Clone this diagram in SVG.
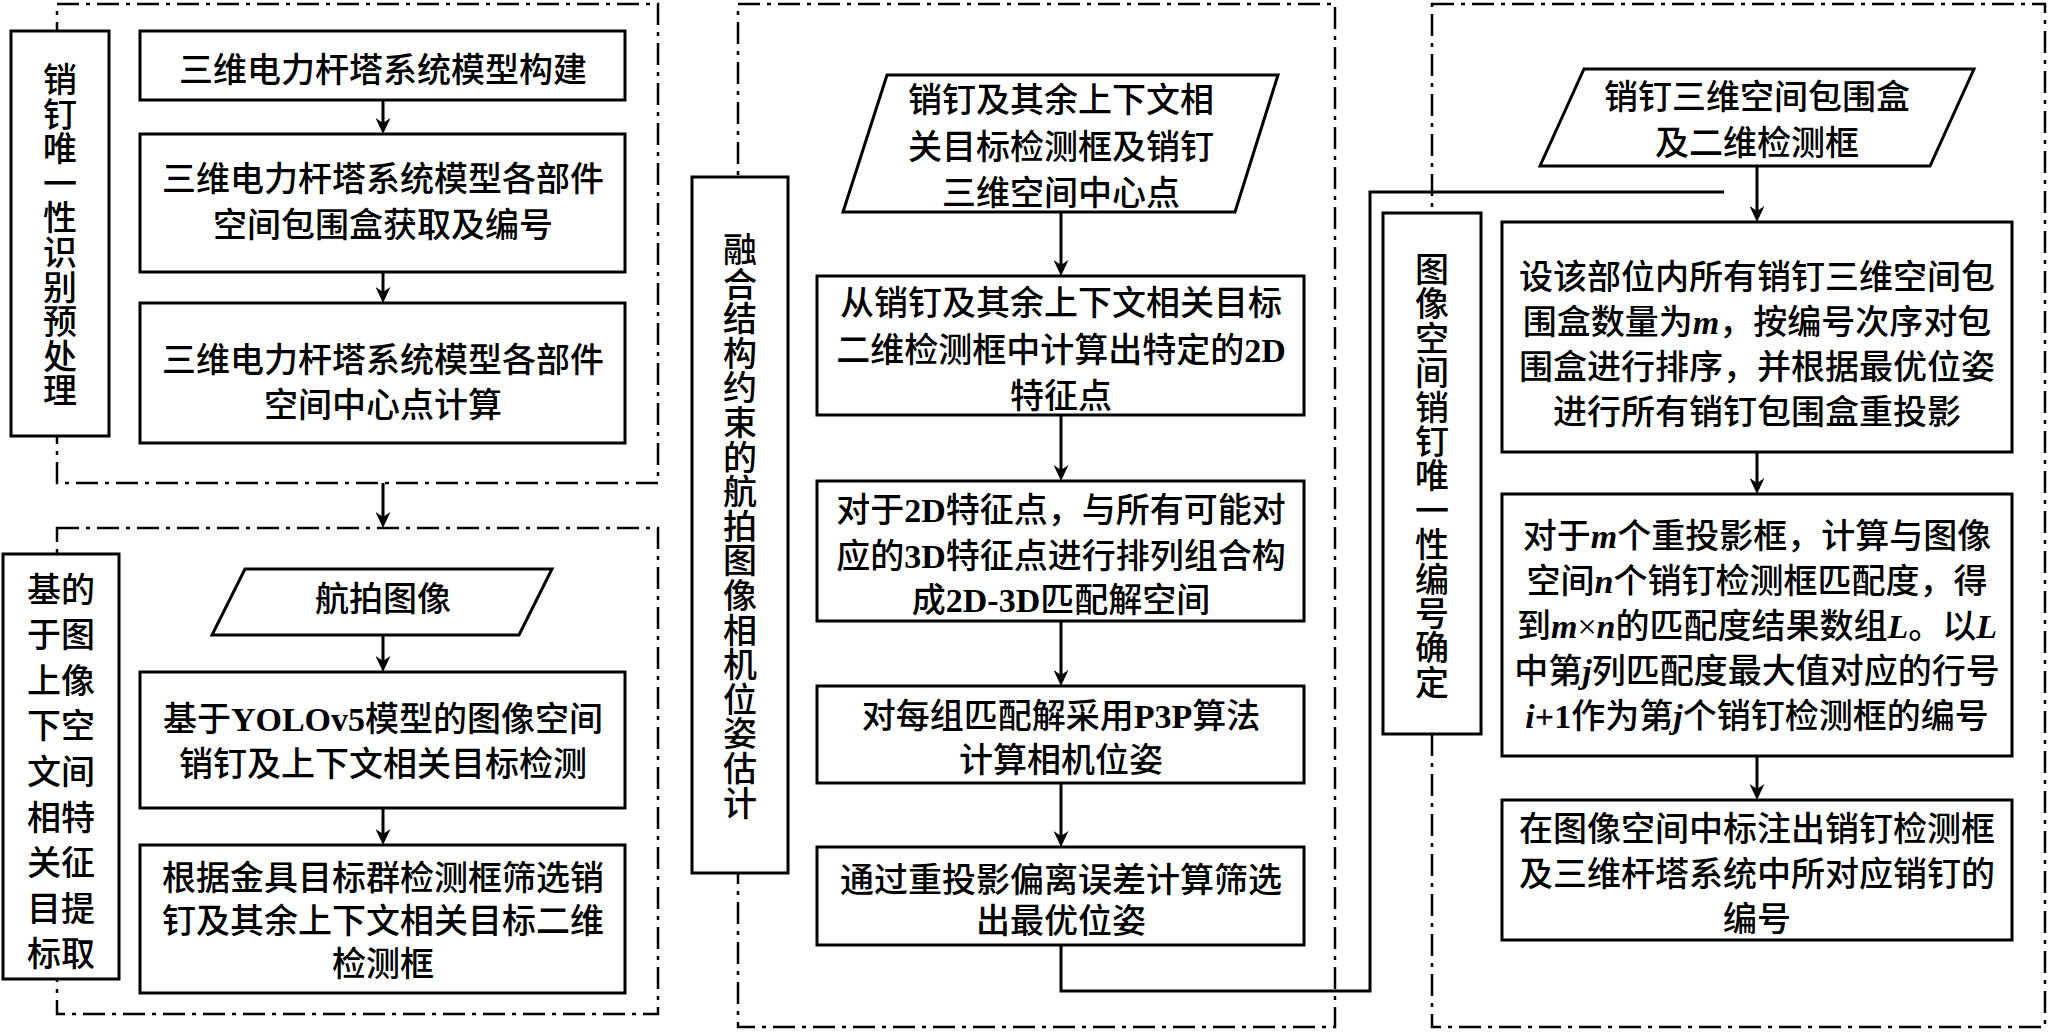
<svg xmlns="http://www.w3.org/2000/svg" width="2048" height="1033" viewBox="0 0 2048 1033">
<style>
.t{font-family:'Liberation Serif','Noto Sans CJK SC',serif;font-size:34px;font-weight:500;fill:#000;text-anchor:middle}
.b{font-weight:bold}
.bi{font-weight:bold;font-style:italic}
.box{fill:#fff;stroke:#000;stroke-width:3}
.dash{fill:none;stroke:#000;stroke-width:2.5;stroke-dasharray:22 7 4 7}
.conn{fill:none;stroke:#000;stroke-width:3}
</style>
<defs>
<marker id="ah" markerUnits="userSpaceOnUse" markerWidth="16" markerHeight="15" refX="10" refY="7.5" orient="auto">
<path d="M0,0 L16,7.5 L0,15 L5,7.5 z" fill="#000"/>
</marker>
</defs>
<rect width="2048" height="1033" fill="#fff"/>

<g id="containers">
<rect id="stage1" class="dash" x="57" y="4" width="601" height="479"/>
<rect id="stage2" class="dash" x="57" y="528" width="601" height="486"/>
<rect id="stage3" class="dash" x="738" y="4" width="597" height="1023"/>
<rect id="stage4" class="dash" x="1432" y="4" width="613" height="1023"/>
</g>

<g id="connectors">
<path class="conn" d="M383,100 V128" marker-end="url(#ah)"/>
<path class="conn" d="M383,272 V297" marker-end="url(#ah)"/>
<path class="conn" d="M383,483 V522" marker-end="url(#ah)"/>
<path class="conn" d="M383,635 V666" marker-end="url(#ah)"/>
<path class="conn" d="M383,808 V839" marker-end="url(#ah)"/>
<path class="conn" d="M1061,212 V270" marker-end="url(#ah)"/>
<path class="conn" d="M1061,415 V475" marker-end="url(#ah)"/>
<path class="conn" d="M1061,621 V680" marker-end="url(#ah)"/>
<path class="conn" d="M1061,783 V841" marker-end="url(#ah)"/>
<path class="conn" d="M1061,945 V991 H1370 V192 H1724"/>
<path class="conn" d="M1757,166 V216" marker-end="url(#ah)"/>
<path class="conn" d="M1757,452 V488" marker-end="url(#ah)"/>
<path class="conn" d="M1757,756 V794" marker-end="url(#ah)"/>
</g>

<g id="label1">
<rect class="box" x="11" y="31" width="98" height="405"/>
<text class="t"><tspan x="60" y="92">销</tspan><tspan x="60" y="126.6">钉</tspan><tspan x="60" y="161.2">唯</tspan><tspan x="60" y="195.8">一</tspan><tspan x="60" y="230.4">性</tspan><tspan x="60" y="265">识</tspan><tspan x="60" y="299.6">别</tspan><tspan x="60" y="334.2">预</tspan><tspan x="60" y="368.8">处</tspan><tspan x="60" y="403.4">理</tspan></text>
</g>
<g id="n1">
<rect class="box" x="140" y="31" width="485" height="69"/>
<text class="t" x="383" y="82">三维电力杆塔系统模型构建</text>
</g>
<g id="n2">
<rect class="box" x="140" y="134" width="485" height="138"/>
<text class="t" x="383" y="191">三维电力杆塔系统模型各部件</text>
<text class="t" x="383" y="237">空间包围盒获取及编号</text>
</g>
<g id="n3">
<rect class="box" x="140" y="303" width="485" height="140"/>
<text class="t" x="383" y="372">三维电力杆塔系统模型各部件</text>
<text class="t" x="383" y="417">空间中心点计算</text>
</g>

<g id="label2">
<rect class="box" x="3" y="554" width="116" height="425"/>
<text class="t"><tspan x="44" y="601.5">基</tspan><tspan x="44" y="647.1">于</tspan><tspan x="44" y="692.7">上</tspan><tspan x="44" y="738.3">下</tspan><tspan x="44" y="783.9">文</tspan><tspan x="44" y="829.5">相</tspan><tspan x="44" y="875.1">关</tspan><tspan x="44" y="920.7">目</tspan><tspan x="44" y="966.3">标</tspan></text>
<text class="t"><tspan x="78" y="601.5">的</tspan><tspan x="78" y="647.1">图</tspan><tspan x="78" y="692.7">像</tspan><tspan x="78" y="738.3">空</tspan><tspan x="78" y="783.9">间</tspan><tspan x="78" y="829.5">特</tspan><tspan x="78" y="875.1">征</tspan><tspan x="78" y="920.7">提</tspan><tspan x="78" y="966.3">取</tspan></text>
</g>
<g id="n4">
<polygon class="box" points="245,569 552,569 519,635 212,635"/>
<text class="t" x="383" y="611">航拍图像</text>
</g>
<g id="n5">
<rect class="box" x="140" y="672" width="485" height="136"/>
<text class="t" x="383" y="731">基于<tspan class="b">YOLOv5</tspan>模型的图像空间</text>
<text class="t" x="383" y="776">销钉及上下文相关目标检测</text>
</g>
<g id="n6">
<rect class="box" x="140" y="845" width="485" height="148"/>
<text class="t" x="383" y="890">根据金具目标群检测框筛选销</text>
<text class="t" x="383" y="933">钉及其余上下文相关目标二维</text>
<text class="t" x="383" y="976">检测框</text>
</g>

<g id="label3">
<rect class="box" x="692" y="177" width="96" height="696"/>
<text class="t"><tspan x="740" y="262">融</tspan><tspan x="740" y="296.6">合</tspan><tspan x="740" y="331.2">结</tspan><tspan x="740" y="365.8">构</tspan><tspan x="740" y="400.4">约</tspan><tspan x="740" y="435">束</tspan><tspan x="740" y="469.6">的</tspan><tspan x="740" y="504.2">航</tspan><tspan x="740" y="538.8">拍</tspan><tspan x="740" y="573.4">图</tspan><tspan x="740" y="608">像</tspan><tspan x="740" y="642.6">相</tspan><tspan x="740" y="677.2">机</tspan><tspan x="740" y="711.8">位</tspan><tspan x="740" y="746.4">姿</tspan><tspan x="740" y="781">估</tspan><tspan x="740" y="815.6">计</tspan></text>
</g>
<g id="n7">
<polygon class="box" points="887,75 1278,75 1235,212 843,212"/>
<text class="t" x="1061" y="112">销钉及其余上下文相</text>
<text class="t" x="1061" y="159">关目标检测框及销钉</text>
<text class="t" x="1061" y="205">三维空间中心点</text>
</g>
<g id="n8">
<rect class="box" x="817" y="276" width="487" height="139"/>
<text class="t" x="1061" y="315">从销钉及其余上下文相关目标</text>
<text class="t" x="1061" y="362">二维检测框中计算出特定的<tspan class="b">2D</tspan></text>
<text class="t" x="1061" y="408">特征点</text>
</g>
<g id="n9">
<rect class="box" x="817" y="481" width="487" height="140"/>
<text class="t" x="1061" y="522">对于<tspan class="b">2D</tspan>特征点，与所有可能对</text>
<text class="t" x="1061" y="568">应的<tspan class="b">3D</tspan>特征点进行排列组合构</text>
<text class="t" x="1061" y="612">成<tspan class="b">2D-3D</tspan>匹配解空间</text>
</g>
<g id="n10">
<rect class="box" x="817" y="686" width="487" height="97"/>
<text class="t" x="1061" y="728">对每组匹配解采用<tspan class="b">P3P</tspan>算法</text>
<text class="t" x="1061" y="772">计算相机位姿</text>
</g>
<g id="n11">
<rect class="box" x="817" y="847" width="487" height="98"/>
<text class="t" x="1061" y="892">通过重投影偏离误差计算筛选</text>
<text class="t" x="1061" y="933">出最优位姿</text>
</g>

<g id="label4">
<rect class="box" x="1383" y="213" width="98" height="521"/>
<text class="t"><tspan x="1432" y="282">图</tspan><tspan x="1432" y="316.4">像</tspan><tspan x="1432" y="350.8">空</tspan><tspan x="1432" y="385.2">间</tspan><tspan x="1432" y="419.6">销</tspan><tspan x="1432" y="454">钉</tspan><tspan x="1432" y="488.4">唯</tspan><tspan x="1432" y="522.8">一</tspan><tspan x="1432" y="557.2">性</tspan><tspan x="1432" y="591.6">编</tspan><tspan x="1432" y="626">号</tspan><tspan x="1432" y="660.4">确</tspan><tspan x="1432" y="694.8">定</tspan></text>
</g>
<g id="n12">
<polygon class="box" points="1584,69 1974,69 1930,166 1540,166"/>
<text class="t" x="1757" y="109">销钉三维空间包围盒</text>
<text class="t" x="1757" y="155">及二维检测框</text>
</g>
<g id="n13">
<rect class="box" x="1502" y="222" width="510" height="230"/>
<text class="t" x="1757" y="289">设该部位内所有销钉三维空间包</text>
<text class="t" x="1757" y="334">围盒数量为<tspan class="bi">m</tspan>，按编号次序对包</text>
<text class="t" x="1757" y="379">围盒进行排序，并根据最优位姿</text>
<text class="t" x="1757" y="424">进行所有销钉包围盒重投影</text>
</g>
<g id="n14">
<rect class="box" x="1502" y="494" width="510" height="262"/>
<text class="t" x="1757" y="548">对于<tspan class="bi">m</tspan>个重投影框，计算与图像</text>
<text class="t" x="1757" y="593">空间<tspan class="bi">n</tspan>个销钉检测框匹配度，得</text>
<text class="t" x="1757" y="638">到<tspan class="bi">m</tspan>×<tspan class="bi">n</tspan>的匹配度结果数组<tspan class="bi">L</tspan>。以<tspan class="bi">L</tspan></text>
<text class="t" x="1757" y="683">中第<tspan class="bi">j</tspan>列匹配度最大值对应的行号</text>
<text class="t" x="1757" y="728"><tspan class="bi">i</tspan><tspan class="b">+1</tspan>作为第<tspan class="bi">j</tspan>个销钉检测框的编号</text>
</g>
<g id="n15">
<rect class="box" x="1502" y="800" width="510" height="140"/>
<text class="t" x="1757" y="841">在图像空间中标注出销钉检测框</text>
<text class="t" x="1757" y="886">及三维杆塔系统中所对应销钉的</text>
<text class="t" x="1757" y="931">编号</text>
</g>
</svg>
